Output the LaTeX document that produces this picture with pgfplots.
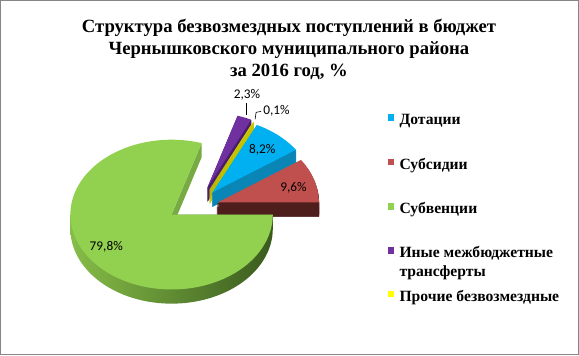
\documentclass[border=0pt]{standalone}
\usepackage{fontspec}
\setmainfont{Liberation Serif}
\newfontfamily\lblfont{Carlito}
\usepackage{pgfplots}
\pgfplotsset{compat=1.18}

\definecolor{cBlue}{HTML}{00B0F0}
\definecolor{cBlueS}{HTML}{0A86B6}
\definecolor{cRed}{HTML}{C0504D}
\definecolor{cRedS}{HTML}{4E1E1D}
\definecolor{cGreen}{HTML}{92D050}
\definecolor{cGreenL}{HTML}{86BD48}
\definecolor{cGreenD}{HTML}{3A5A1E}
\definecolor{cGreenF}{HTML}{78AA44}
\definecolor{cPurple}{HTML}{7030A0}
\definecolor{cPurpleS}{HTML}{4A1E6C}
\definecolor{cYellow}{HTML}{FFFF00}
\definecolor{cYellowT}{HTML}{E0E000}
\definecolor{cYellowS}{HTML}{C4C400}
\definecolor{cFrame}{HTML}{868686}

% values, %
\def\vDot{8.2}\def\vSub{9.6}\def\vSubv{79.8}\def\vIny{2.3}\def\vPro{0.1}
\pgfmathsetmacro\aA{0}
\pgfmathsetmacro\aB{\aA+3.6*\vSub}
\pgfmathsetmacro\aC{\aB+3.6*\vDot}
\pgfmathsetmacro\aD{\aC+3.6*\vPro}
\pgfmathsetmacro\aE{\aD+3.6*\vIny}
\pgfmathsetmacro\aF{\aE+3.6*\vSubv}

\newcommand{\slice}[6]{%
  \pgfplotsinvokeforeach{14,13,...,1}{%
    \addplot[forget plot, fill=#6, draw=#6, line width=0.5bp, domain=#1:#2, samples=30, yshift=-##1bp]
      ({#3+100*cos(x)},{#4+74*sin(x)}) -- (axis cs:#3,#4) -- cycle;
  }%
  \addplot[forget plot, fill=#5, draw=none, domain=#1:#2, samples=30]
      ({#3+100*cos(x)},{#4+74*sin(x)}) -- (axis cs:#3,#4) -- cycle;
}

\begin{document}
\begin{tikzpicture}
\begin{axis}[
  width=579bp, height=359bp, scale only axis,
  xmin=0, xmax=579, ymin=0, ymax=359,
  hide axis, clip=false, no markers,
  legend image code/.code={\fill[#1, draw=none] (0bp,4bp) rectangle (6.5bp,10.5bp);},
  legend style={at={(axis cs:387,243)}, anchor=north west, draw=none, fill=none,
    inner sep=0pt, row sep=29bp,
    font=\fontsize{15.5}{18.5}\selectfont\bfseries,
    nodes={inner xsep=5bp, inner ysep=0pt, text height=11bp, text depth=4bp},
    cells={anchor=base west}},
]
% frame
\draw[cFrame, line width=1bp] (axis cs:4.5,4.5) rectangle (axis cs:575.5,354.5);

% exploded slices (back to front)
\slice{\aD}{\aE}{209}{170}{cPurple}{cPurpleS}
\slice{\aC}{\aD}{211}{168}{cYellowT}{cYellowS}
\slice{\aB}{\aC}{214}{165}{cBlue}{cBlueS}
\slice{\aA}{\aB}{219}{155}{cRed}{cRedS}

% green slice: side
\addplot[forget plot, left color=cGreenL, right color=cGreenD, draw=none, domain=180:360, samples=60]
  ({173.5+100*cos(x)},{129+74*sin(x)}) -- (axis cs:273.5,143) -- (axis cs:73.5,143) -- cycle;
\addplot[forget plot, fill=cGreenF, draw=none] coordinates {(173.5,143) (203.2,213.65) (203.2,199.65) (173.5,129)} -- cycle;
% green top
\addplot[forget plot, fill=cGreen, draw=none, domain=\aE:\aF, samples=90]
  ({173.5+100*cos(x)},{143+74*sin(x)}) -- (axis cs:173.5,143) -- cycle;

% leader lines
\addplot[forget plot, black, line width=0.6bp] coordinates {(247,253) (247,241)};
\addplot[forget plot, black, line width=0.6bp] coordinates {(256,237) (257,244) (262,245)};

% data labels
\begin{scope}[every node/.style={font=\lblfont\fontsize{13.2}{15}\selectfont, inner sep=0pt}]
\node at (axis cs:109,111) {79,8\%};
\node at (axis cs:294,169) {9,6\%};
\node at (axis cs:263,207) {8,2\%};
\node at (axis cs:248,261) {2,3\%};
\node[anchor=west] at (axis cs:264,246) {0,1\%};
\end{scope}

% title
\node[align=center, font=\fontsize{18.5}{22}\selectfont\bfseries] at (axis cs:289.5,306)
  {Структура безвозмездных поступлений в бюджет\\Чернышковского муниципального района\\за 2016 год, \%};

% legend
\addlegendimage{fill=cBlue}
\addlegendentry{Дотации}
\addlegendimage{fill=cRed}
\addlegendentry{Субсидии}
\addlegendimage{fill=cGreen}
\addlegendentry{Субвенции}
\addlegendimage{fill=cPurple}
\addlegendentry[text height=7bp, text depth=3bp]{\begin{tabular}[t]{@{}l@{}}Иные межбюджетные\\трансферты\end{tabular}}
\addlegendimage{fill=cYellow}
\addlegendentry{Прочие безвозмездные}
\end{axis}
\end{tikzpicture}
\end{document}
